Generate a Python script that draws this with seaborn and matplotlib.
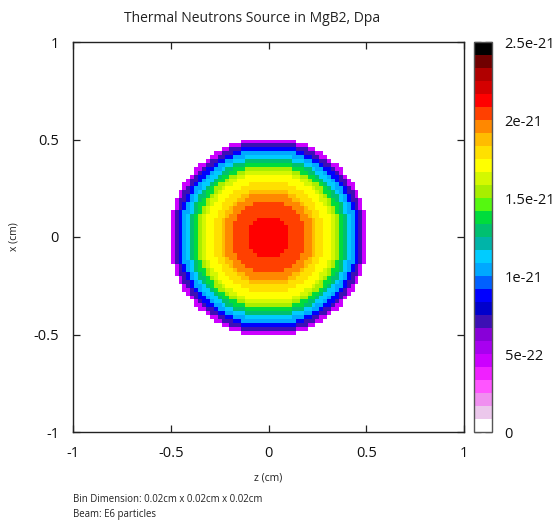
import numpy as np
import matplotlib
matplotlib.use("Agg")
import matplotlib.pyplot as plt
from matplotlib.colors import ListedColormap
import seaborn as sns

# ---- data ----
title = "Thermal Neutrons Source in MgB2, Dpa"
xlabel = "z (cm)"
ylabel = "x (cm)"
footer = ["Bin Dimension: 0.02cm x 0.02cm x 0.02cm", "Beam: E6 particles"]
bin_size = 0.02
axis_ticks = [-1, -0.5, 0, 0.5, 1]
axis_ticklabels = ["-1", "-0.5", "0", "0.5", "1"]
cbar_ticks = [0, 5e-22, 1e-21, 1.5e-21, 2e-21, 2.5e-21]
cbar_ticklabels = ["0", "5e-22", "1e-21", "1.5e-21", "2e-21", "2.5e-21"]
vmax = 2.5e-21
# radial profile (value in units of 1e-21) at radius index k*0.02 cm
radial_profile = [2.13, 2.13, 2.12, 2.12, 2.10, 2.09, 2.07, 2.06, 2.04, 2.02,
                  1.97, 1.93, 1.88, 1.83, 1.78, 1.72, 1.68, 1.61, 1.52, 1.40,
                  1.28, 1.15, 1.04, 0.90, 0.72, 0.45]
palette = ["#ffffff", "#ecc8ec", "#f090f0", "#ff55ff", "#f020ff", "#cc00ff",
           "#a800f0", "#8800d8", "#3c10b4", "#0000cc", "#0000ff", "#0060ff",
           "#00a8ff", "#00ccff", "#00b4a8", "#00c070", "#00dc3c", "#55f810",
           "#a8ee00", "#d4f800", "#ffff00", "#ffe000", "#ffbc00", "#ff8800",
           "#ff4000", "#ff0000", "#d40000", "#b00000", "#700000", "#000000"]

# ---- build the grid table from the profile (lookup by radius bin) ----
centers = np.arange(-1 + bin_size / 2, 1, bin_size)
Z, X = np.meshgrid(centers, centers)
R = np.sqrt(Z ** 2 + X ** 2)
K = np.rint(R / bin_size).astype(int)
prof = np.array(radial_profile) * 1e-21
grid = np.full(R.shape, np.nan)
inside = K < len(prof)
grid[inside] = prof[K[inside]]

n = len(centers)

W, H = 558, 527
fig = plt.figure(figsize=(W / 100, H / 100), dpi=100)
sns.set_style("white")
plt.rcParams["font.family"] = ["Open Sans", "DejaVu Sans"]

ax = fig.add_axes([73 / W, 1 - 432 / H, 391 / W, 390 / H])
cax = fig.add_axes([474 / W, 1 - 432 / H, 18 / W, 390 / H])

cmap = ListedColormap(palette)
sns.heatmap(grid, ax=ax, cbar_ax=cax, cmap=cmap, vmin=0, vmax=vmax,
            xticklabels=False, yticklabels=False, cbar=True,
            cbar_kws={"ticks": cbar_ticks})
ax.invert_yaxis()
ax.set_xlim(0, n)
ax.set_ylim(0, n)

pos = [(t + 1) / 2 * n for t in axis_ticks]
ax.set_xticks(pos)
ax.set_xticklabels(axis_ticklabels)
ax.set_yticks(pos)
ax.set_yticklabels(axis_ticklabels)
for s in ax.spines.values():
    s.set_visible(True)
    s.set_color("#222222")
    s.set_linewidth(1.0)
ax.tick_params(direction="in", length=5, width=0.9, color="#222222",
               top=True, right=True, bottom=True, left=True,
               labelsize=10.5, pad=10, labelcolor="#111111")
ax.set_xlabel(xlabel, fontsize=7.5, labelpad=8, color="#222222")
ax.set_ylabel(ylabel, fontsize=7.5, labelpad=10, color="#222222")

cb = ax.collections[0].colorbar
cb.set_ticklabels(cbar_ticklabels)
cb.outline.set_edgecolor("#555555")
cb.outline.set_linewidth(1.0)
cax.tick_params(direction="in", length=5, width=0.9, color="#111111",
                left=True, right=True, labelsize=10.5, pad=9,
                labelcolor="#111111")

fig.text(252 / W, 1 - 18 / H, title, ha="center", va="center",
         fontsize=10, color="#222222")
fig.text(73 / W, 1 - 500 / H, footer[0], ha="left", va="center",
         fontsize=6.9, color="#222222")
fig.text(73 / W, 1 - 515 / H, footer[1], ha="left", va="center",
         fontsize=6.9, color="#222222")

fig.savefig("out.png", dpi=100)
